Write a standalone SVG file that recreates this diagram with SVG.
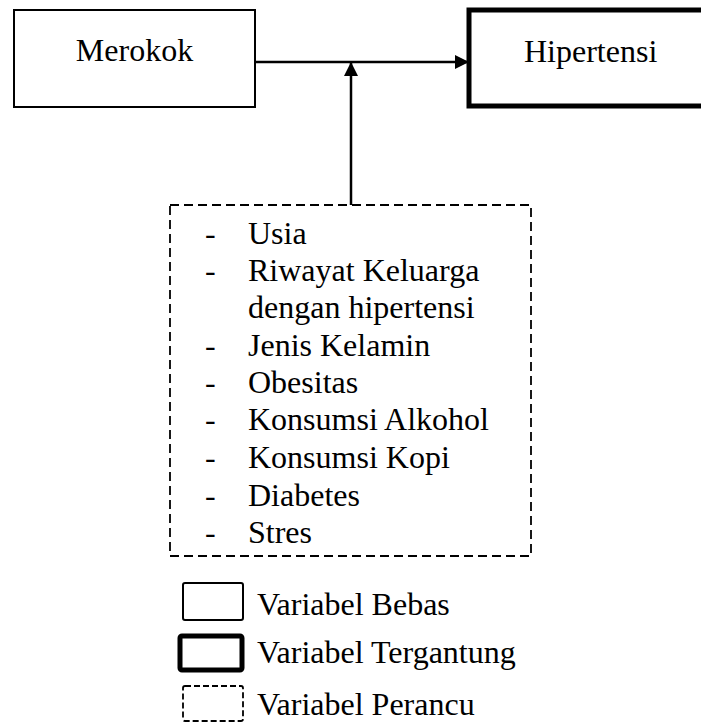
<svg xmlns="http://www.w3.org/2000/svg" width="701" height="724" viewBox="0 0 701 724">
<style>
text{font-family:'Liberation Serif','Tinos','Times New Roman','DejaVu Serif',serif;font-size:32px;fill:#000}
.thin{fill:#fff;stroke:#000;stroke-width:2}
.thick{fill:#fff;stroke:#000;stroke-width:5}
.dash{fill:#fff;stroke:#000;stroke-width:1.8;stroke-dasharray:9 5}
.conn{fill:none;stroke:#000;stroke-width:2.5}
</style>
<defs>
<marker id="ah" markerWidth="14" markerHeight="14" refX="13" refY="7" orient="auto" markerUnits="userSpaceOnUse">
<path d="M0,0 L14,7 L0,14 Z" fill="#000"/>
</marker>
</defs>
<rect width="701" height="724" fill="#fff"/>
<g id="merokok">
<rect class="thin" x="14" y="10" width="241" height="97"/>
<text x="134.5" y="61" text-anchor="middle" font-family="Liberation Serif">Merokok</text>
</g>
<g id="hipertensi">
<rect class="thick" x="469" y="10" width="240" height="96"/>
<text x="524" y="62" font-family="Liberation Serif">Hipertensi</text>
</g>
<g id="perancu" font-family="Liberation Serif">
<rect class="dash" x="170" y="205" width="361" height="351"/>
<text x="205" y="244">-</text><text x="248" y="244">Usia</text>
<text x="205" y="281">-</text><text x="248" y="281">Riwayat Keluarga</text>
<text x="248" y="318">dengan hipertensi</text>
<text x="205" y="356">-</text><text x="248" y="356">Jenis Kelamin</text>
<text x="205" y="393">-</text><text x="248" y="393">Obesitas</text>
<text x="205" y="430">-</text><text x="248" y="430">Konsumsi Alkohol</text>
<text x="205" y="468">-</text><text x="248" y="468">Konsumsi Kopi</text>
<text x="205" y="506">-</text><text x="248" y="506">Diabetes</text>
<text x="205" y="543">-</text><text x="248" y="543">Stres</text>
</g>
<g id="connectors">
<line class="conn" x1="255" y1="62" x2="468" y2="62" marker-end="url(#ah)"/>
<line class="conn" x1="351" y1="205" x2="351" y2="63" marker-end="url(#ah)"/>
</g>
<g id="legend">
<rect class="thin" x="183" y="583" width="60" height="37" rx="2"/>
<text x="257" y="615">Variabel Bebas</text>
<rect class="thick" x="180" y="636" width="62" height="34" rx="2"/>
<text x="257" y="663">Variabel Tergantung</text>
<rect class="dash" x="183" y="686" width="60" height="35" rx="2" style="stroke-dasharray:6 3"/>
<text x="257" y="715">Variabel Perancu</text>
</g>
</svg>
